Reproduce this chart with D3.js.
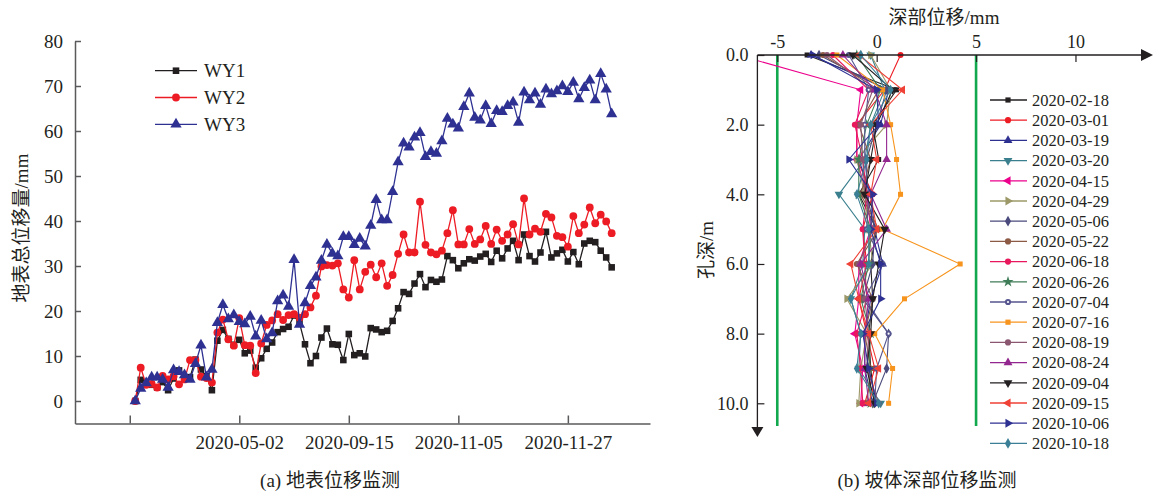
<!DOCTYPE html>
<html>
<head>
<meta charset="utf-8">
<script src="https://cdn.jsdelivr.net/npm/d3@7"></script>
<style>
body { margin: 0; background: #fff; }
svg text { font-family: "Liberation Serif", "Noto Sans CJK SC", serif; fill: #231f20; }
</style>
</head>
<body>
<svg id="chart" width="1155" height="491"></svg>
<script>
// ---- (a) surface displacement data ----
const xTicksA = [0, 20, 40, 60, 80];
const xLabelsA = ["", "2020-05-02", "2020-09-15", "2020-11-05", "2020-11-27"];
const yTicksA = [0, 10, 20, 30, 40, 50, 60, 70, 80];

const wy1 = [0, 4.7, 3.8, 3.6, 3.0, 4.2, 2.4, 5.0, 6.8, 5.0, 5.3, 9.2, 7.0, 5.5, 2.4, 13.4, 15.8, 13.8, 12.5, 13.6,
    10.6, 11.2, 7.4, 9.5, 11.6, 13.0, 15.3, 16.0, 16.5, 19.0, 17.3, 12.6, 8.4, 10.0, 14.1, 16.1, 12.6, 12.5, 9.1, 14.9,
    10.2, 10.6, 9.9, 16.2, 15.9, 15.3, 15.6, 17.8, 20.6, 24.2, 23.8, 26.1, 28.2, 25.3, 26.9, 26.5, 27.0, 32.2, 31.3, 29.5,
    30.6, 31.5, 31.2, 32.1, 32.7, 30.9, 33.4, 31.7, 33.9, 35.6, 31.3, 37.0, 32.2, 31.0, 33.0, 37.6, 31.9, 32.8, 33.6, 31.0,
    33.1, 30.4, 35.0, 35.6, 35.3, 33.4, 31.9, 29.7];
const wy2 = [0, 7.4, 3.6, 3.8, 3.0, 5.6, 4.8, 5.5, 3.7, 4.8, 9.1, 9.1, 5.4, 5.1, 4.1, 15.2, 18.1, 13.7, 12.3, 18.4,
    12.4, 12.3, 6.2, 12.8, 16.9, 17.9, 19.3, 18.0, 19.1, 19.3, 18.5, 19.3, 20.8, 23.4, 29.9, 30.2, 30.1, 30.6, 24.8, 23.0,
    31.3, 24.8, 28.7, 30.3, 27.5, 30.6, 25.6, 28.0, 32.7, 37.0, 33.0, 33.0, 44.3, 34.7, 33.0, 32.6, 33.4, 37.3, 42.4, 34.8,
    34.8, 38.2, 34.9, 35.9, 38.9, 34.9, 38.1, 35.6, 37.0, 39.3, 34.8, 45.0, 37.0, 38.3, 37.6, 41.6, 40.8, 36.7, 36.4, 34.3,
    41.1, 37.3, 39.2, 43.0, 39.5, 41.4, 39.9, 37.3];
const wy3 = [0, 2.8, 4.0, 5.3, 5.3, 4.8, 3.0, 6.9, 6.5, 5.8, 4.8, 8.3, 12.4, 5.3, 7.0, 17.4, 21.4, 18.2, 19.1, 17.6,
    17.1, 18.8, 14.4, 17.9, 13.8, 15.1, 22.2, 23.5, 21.0, 31.4, 17.0, 21.8, 25.6, 27.5, 31.2, 34.8, 32.8, 32.2, 36.5, 36.5,
    34.7, 36.1, 34.4, 39.0, 44.7, 40.2, 40.2, 46.5, 53.1, 57.3, 56.4, 58.6, 59.6, 54.3, 55.4, 55.0, 57.8, 62.8, 61.5, 60.6,
    65.4, 68.4, 63.0, 62.4, 65.6, 61.6, 64.5, 64.3, 65.6, 66.4, 61.9, 68.6, 66.9, 68.4, 65.9, 69.3, 68.2, 68.9, 70.0, 68.7,
    70.8, 67.1, 69.6, 71.3, 66.9, 72.7, 69.3, 63.8];

// ---- (b) deep displacement data (mm at depth 0..10 m) ----
const depths = [0, 1, 2, 3, 4, 5, 6, 7, 8, 9, 10];
const xTicksB = [-5, 0, 5, 10];
const yTicksB = [0, 2, 4, 6, 8, 10];
const limits = [-5, 5];

const s0218 = [-3.5, 1.0, -0.2, 0.1, -0.9, 0.0, -0.3, -0.2, -0.4, -0.3, -0.1];
const s0301 = [1.2, 0.4, -1.0, -1.0, -0.2, -0.7, -0.5, -0.9, -0.5, -0.1, -0.6];
const s0319 = [-3.3, 0.6, 0.2, -0.9, -0.3, -0.1, 0.3, -0.3, -0.6, -0.6, -0.2];
const s0320 = [-0.3, 0.4, -0.3, -0.6, -1.9, -0.6, -0.7, -1.3, -0.8, -0.9, 0.2];
const s0415 = [-7.0, -0.8, -1.0, -1.0, -0.5, -0.3, -0.9, -0.9, -1.1, -0.7, -0.8];
const s0429 = [-0.3, 0.7, 0.5, -1.0, -0.6, -0.4, -0.2, -1.5, -0.5, -0.8, -0.9];
const s0506 = [-2.9, 0.5, 0.0, -0.5, -0.5, -0.1, -0.2, -0.7, 0.6, 0.5, -0.2];
const s0522 = [-2.7, 0.1, -0.9, -0.3, -0.8, 0.1, -1.0, -0.2, -0.6, -0.3, -0.5];
const s0618 = [-2.2, -0.4, -1.1, -0.7, -0.5, -0.7, -0.6, -0.5, -1.0, -0.8, -0.7];
const s0626 = [-1.0, 0.2, -0.5, -0.9, -0.9, -0.3, -0.4, -0.8, -0.3, -0.4, -0.3];
const s0704 = [-1.4, -0.4, -0.6, -0.6, -0.4, -0.5, 0.3, -0.6, 0.6, 0.0, -0.1];
const s0716 = [-2.0, 0.3, 0.7, 1.0, 1.2, 0.3, 4.2, 1.4, -0.1, 0.8, 0.6];
const s0819 = [-2.5, -0.2, -0.8, -0.7, -0.6, -0.2, -0.9, -0.6, -0.4, -0.5, 0.1];
const s0824 = [-1.7, -0.1, 0.5, 0.5, -0.3, 0.5, -0.8, -0.4, -0.6, -0.6, -0.4];
const s0904 = [-1.2, 0.8, 0.0, -0.3, -0.6, 0.4, 0.1, -0.2, -0.3, -0.5, -0.1];
const s0915 = [-0.9, 1.3, -0.3, 0.0, -0.3, 0.0, -1.3, -0.9, -0.4, 0.1, -0.4];
const s1006 = [-3.2, 0.0, 0.1, -1.4, -0.2, -0.3, 0.2, 0.2, -0.7, -0.4, 0.0];
const s1018 = [-0.8, 0.7, -0.3, -0.5, -1.0, -0.4, -0.4, -1.3, -0.8, -1.0, 0.1];

const dates = ["2020-02-18", "2020-03-01", "2020-03-19", "2020-03-20", "2020-04-15", "2020-04-29",
    "2020-05-06", "2020-05-22", "2020-06-18", "2020-06-26", "2020-07-04", "2020-07-16",
    "2020-08-19", "2020-08-24", "2020-09-04", "2020-09-15", "2020-10-06", "2020-10-18"];
const deepSeries = [s0218, s0301, s0319, s0320, s0415, s0429, s0506, s0522, s0618,
    s0626, s0704, s0716, s0819, s0824, s0904, s0915, s1006, s1018];
const deepColours = ["#231f20", "#ed1c24", "#2e3192", "#3a7f8e", "#ec008c", "#9c9868",
    "#4a4a7c", "#8c5a45", "#e8185c", "#3f7d58", "#56558f", "#f7941d",
    "#8a5670", "#93278f", "#231f20", "#ef4136", "#2e3192", "#3b7f96"];
const deepShapes = ["square", "circle", "up", "down", "left", "right", "diamond", "circle", "circle",
    "star", "dotcircle", "square", "circle", "up", "down", "left", "right", "diamond"];

const svg = d3.select("#chart");

// draw a marker of given shape at (x, y)
function marker(g, shape, colour, x, y, size) {
    let type = d3.symbolTriangle, rot = 0, sz = size;
    if (shape == "square") { type = d3.symbolSquare; sz = size * 0.9; }
    else if (shape == "circle" || shape == "dotcircle") { type = d3.symbolCircle; }
    else if (shape == "diamond") { type = d3.symbolDiamond; sz = size * 1.1; }
    else if (shape == "star") { type = d3.symbolStar; sz = size * 1.3; }
    else if (shape == "down") rot = 180;
    else if (shape == "left") rot = -90;
    else if (shape == "right") rot = 90;
    if (type == d3.symbolTriangle) sz = size * 1.15;
    g.append("path")
        .attr("d", d3.symbol(type, sz)())
        .attr("transform", `translate(${x},${y}) rotate(${rot})`)
        .attr("fill", colour);
    if (shape == "dotcircle") {
        g.append("circle").attr("cx", x).attr("cy", y).attr("r", 1.1).attr("fill", "#fff");
    }
}

// ================= (a) =================
const xa = d3.scaleLinear().domain([-10, 95]).range([75, 650]);
const ya = d3.scaleLinear().domain([-5, 80]).range([423.5, 41]);

const axA = svg.append("g");
axA.append("g")
    .attr("transform", "translate(75,0)")
    .call(d3.axisLeft(ya).tickValues(yTicksA).tickSize(-6).tickSizeOuter(0).tickPadding(12));
axA.append("g")
    .attr("transform", "translate(0,423.5)")
    .call(d3.axisBottom(xa).tickValues(xTicksA).tickSize(-8).tickSizeOuter(0).tickPadding(12)
        .tickFormat((d, i) => xLabelsA[i]));
axA.selectAll("path, line").attr("stroke", "#5a5a5c").attr("stroke-width", 1.5);
axA.selectAll("text").attr("font-size", 19).style("font-family", "'Liberation Serif', serif");

svg.append("text")
    .attr("transform", "translate(21,228) rotate(-90)")
    .attr("text-anchor", "middle")
    .attr("dominant-baseline", "central")
    .attr("font-size", 19)
    .text("地表总位移量/mm");

svg.append("text")
    .attr("x", 330).attr("y", 487)
    .attr("text-anchor", "middle")
    .attr("font-size", 19)
    .text("(a) 地表位移监测");

const surf = [
    {name: "WY1", values: wy1, colour: "#231f20", shape: "square"},
    {name: "WY2", values: wy2, colour: "#ed1c24", shape: "circle"},
    {name: "WY3", values: wy3, colour: "#2e3192", shape: "up"}
];
const lineA = d3.line().x((d, i) => xa(i + 1)).y((d) => ya(d));

surf.forEach(function(s) {
    const g = svg.append("g");
    g.append("path")
        .attr("d", lineA(s.values))
        .attr("fill", "none")
        .attr("stroke", s.colour)
        .attr("stroke-width", 1.3);
    s.values.forEach((v, i) => marker(g, s.shape, s.colour, xa(i + 1), ya(v), 48));
});

// legend (a)
surf.forEach(function(s, k) {
    const y = 70.7 + k * 26.8;
    const g = svg.append("g");
    g.append("line").attr("x1", 155).attr("x2", 197).attr("y1", y).attr("y2", y)
        .attr("stroke", s.colour).attr("stroke-width", 1.3);
    marker(g, s.shape, s.colour, 176, y, 48);
    g.append("text").attr("x", 204).attr("y", y).attr("dy", "0.35em")
        .attr("font-size", 19).text(s.name);
});

// ================= (b) =================
const xb = d3.scaleLinear().domain([-6, 13.9]).range([757.4, 1153]);
const yb = d3.scaleLinear().domain([0, 10]).range([55, 403.3]);

svg.append("defs").append("clipPath").attr("id", "clipB")
    .append("rect").attr("x", 757.4).attr("y", 0).attr("width", 400).attr("height", 491);

// warning lines at +-5 mm
svg.append("g").selectAll("line")
    .data(limits)
    .enter()
    .append("line")
    .attr("x1", (d) => xb(d)).attr("x2", (d) => xb(d))
    .attr("y1", yb(0)).attr("y2", 426)
    .attr("stroke", "#12a84e")
    .attr("stroke-width", 2.6);

const lineB = d3.line().x((d) => xb(d[1])).y((d) => yb(d[0]));
const plotB = svg.append("g").attr("clip-path", "url(#clipB)");
deepSeries.forEach(function(vals, k) {
    const pts = depths.map((d, i) => [d, vals[i]]);
    const g = plotB.append("g");
    g.append("path")
        .attr("d", lineB(pts))
        .attr("fill", "none")
        .attr("stroke", deepColours[k])
        .attr("stroke-width", 1.1);
    pts.forEach((p) => marker(g, deepShapes[k], deepColours[k], xb(p[1]), yb(p[0]), 28));
});

// axes (b)
const axB = svg.append("g");
axB.append("g")
    .attr("transform", "translate(0,55)")
    .call(d3.axisTop(xb).tickValues(xTicksB).tickSize(-7).tickSizeOuter(0).tickPadding(7)
        .tickFormat((d) => String(d)));
axB.append("g")
    .attr("transform", "translate(757.4,0)")
    .call(d3.axisLeft(yb).tickValues(yTicksB).tickSize(-7).tickSizeOuter(0).tickPadding(9)
        .tickFormat(d3.format(".1f")));
axB.selectAll(".domain").remove();
axB.selectAll("line").attr("stroke", "#231f20").attr("stroke-width", 1.2);
axB.selectAll("text").attr("font-size", 18).style("font-family", "'Liberation Serif', serif");

// axis lines with arrows
axB.append("line").attr("x1", 757.4).attr("x2", 1143).attr("y1", 55).attr("y2", 55)
    .attr("stroke", "#231f20").attr("stroke-width", 1.3);
axB.append("line").attr("x1", 757.4).attr("x2", 757.4).attr("y1", 55).attr("y2", 428)
    .attr("stroke", "#231f20").attr("stroke-width", 1.3);
axB.append("path").attr("d", "M1141,49L1153,55L1141,61Z").attr("fill", "#231f20");
axB.append("path").attr("d", "M751.4,427L763.4,427L757.4,437Z").attr("fill", "#231f20");

svg.append("text")
    .attr("x", 944).attr("y", 24)
    .attr("text-anchor", "middle")
    .attr("font-size", 19)
    .text("深部位移/mm");

svg.append("text")
    .attr("transform", "translate(706,250) rotate(-90)")
    .attr("text-anchor", "middle")
    .attr("dominant-baseline", "central")
    .attr("font-size", 19)
    .text("孔深/m");

svg.append("text")
    .attr("x", 927).attr("y", 487)
    .attr("text-anchor", "middle")
    .attr("font-size", 19)
    .text("(b) 坡体深部位移监测");

// legend (b)
dates.forEach(function(name, k) {
    const y = 100 + k * 20.2;
    const g = svg.append("g");
    g.append("line").attr("x1", 990).attr("x2", 1027).attr("y1", y).attr("y2", y)
        .attr("stroke", deepColours[k]).attr("stroke-width", 1.3);
    marker(g, deepShapes[k], deepColours[k], 1008, y, 30);
    g.append("text").attr("x", 1032).attr("y", y).attr("dy", "0.35em")
        .attr("font-size", 16.5).text(name);
});
</script>
</body>
</html>
